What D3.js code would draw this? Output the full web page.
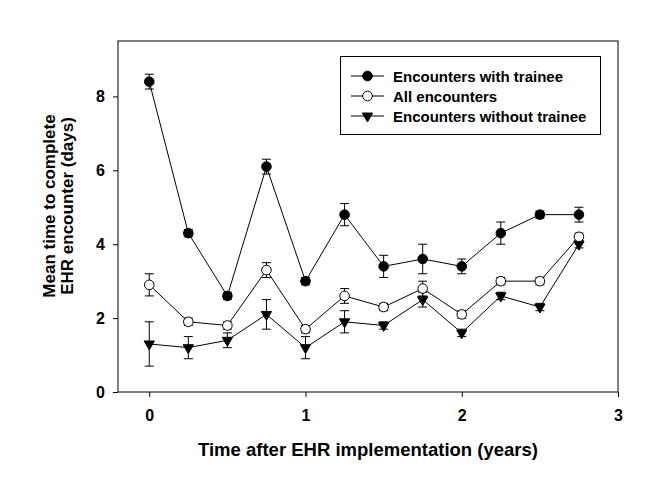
<!DOCTYPE html>
<html><head><meta charset="utf-8">
<script src="https://cdn.jsdelivr.net/npm/d3@7"></script>
<style>body{margin:0;background:#fff}svg{display:block}text{font-family:"Liberation Sans",Arial,sans-serif;font-weight:bold;fill:#000}</style>
</head><body>
<script>
const times = [0,0.25,0.5,0.75,1,1.25,1.5,1.75,2,2.25,2.5,2.75];
const withTrainee = [8.4,4.3,2.6,6.1,3.0,4.8,3.4,3.6,3.4,4.3,4.8,4.8];
const withTraineeErr = [0.2,0.1,0.1,0.2,0.1,0.3,0.3,0.4,0.2,0.3,0.1,0.2];
const allEnc = [2.9,1.9,1.8,3.3,1.7,2.6,2.3,2.8,2.1,3.0,3.0,4.2];
const allEncErr = [0.3,0.1,0.1,0.2,0.1,0.2,0.1,0.2,0.1,0.1,0.1,0.1];
const withoutTrainee = [1.3,1.2,1.4,2.1,1.2,1.9,1.8,2.5,1.6,2.6,2.3,4.0];
const withoutTraineeErr = [0.6,0.3,0.2,0.4,0.3,0.3,0.1,0.2,0.1,0.1,0.1,0.1];
const xTicks = [0,1,2,3];
const yTicks = [0,2,4,6,8];
const seriesNames = ["Encounters with trainee","All encounters","Encounters without trainee"];

const W=672,H=492;
const m={l:118,r:54,t:41,b:100};
const svg=d3.select("body").append("svg").attr("width",W).attr("height",H);
const x=d3.scaleLinear().domain([-0.2,3]).range([m.l,W-m.r]);
const y=d3.scaleLinear().domain([0,9.5]).range([H-m.b,m.t]);

svg.append("rect").attr("x",m.l).attr("y",m.t).attr("width",W-m.r-m.l).attr("height",H-m.b-m.t)
  .attr("fill","none").attr("stroke","#000").attr("stroke-width",1);

const xa=svg.append("g").attr("transform",`translate(0,${H-m.b})`)
  .call(d3.axisBottom(x).tickValues(xTicks).tickFormat(d3.format("d")).tickSize(5).tickPadding(13));
const ya=svg.append("g").attr("transform",`translate(${m.l},0)`)
  .call(d3.axisLeft(y).tickValues(yTicks).tickFormat(d3.format("d")).tickSize(5).tickPadding(8));
[xa,ya].forEach(a=>{a.select(".domain").remove();a.selectAll("text").style("font-size","16px").style("font-family","Liberation Sans, Arial, sans-serif").style("font-weight","bold");a.selectAll("line").attr("stroke","#000");});

svg.append("text").attr("x",(m.l+W-m.r)/2).attr("y",456).attr("text-anchor","middle").style("font-size","18.5px").text("Time after EHR implementation (years)");
const yl=svg.append("text").attr("transform",`translate(55,206) rotate(-90)`).attr("text-anchor","middle").style("font-size","17px");
yl.append("tspan").attr("x",0).attr("y",0).text("Mean time to complete");
yl.append("tspan").attr("x",0).attr("y",18).text("EHR encounter (days)");

const series=[
 {name:seriesNames[2],v:withoutTrainee,e:withoutTraineeErr,type:"tri",fill:"#000"},
 {name:seriesNames[1],v:allEnc,e:allEncErr,type:"circ",fill:"#fff"},
 {name:seriesNames[0],v:withTrainee,e:withTraineeErr,type:"circ",fill:"#000"}
];
const line=d3.line().x(d=>x(d[0])).y(d=>y(d[1]));
const tri=d3.symbol().type(d3.symbolTriangle).size(46);
function marker(g,type,fill){
  if(type==="circ") g.append("circle").attr("r",4.8).attr("fill",fill).attr("stroke","#000").attr("stroke-width",1);
  else g.append("path").attr("d",tri()).attr("transform","rotate(180)").attr("fill",fill).attr("stroke","#000").attr("stroke-width",1);
}
series.forEach(s=>{
  const g=svg.append("g");
  const pts=times.map((t,i)=>[t,s.v[i],s.e[i]]);
  pts.forEach(p=>{
    const cx=x(p[0]),y1=y(p[1]+p[2]),y2=y(p[1]-p[2]);
    g.append("line").attr("x1",cx).attr("x2",cx).attr("y1",y1).attr("y2",y2).attr("stroke","#000");
    [y1,y2].forEach(yy=>g.append("line").attr("x1",cx-4.5).attr("x2",cx+4.5).attr("y1",yy).attr("y2",yy).attr("stroke","#000"));
  });
  g.append("path").attr("d",line(pts)).attr("fill","none").attr("stroke","#000").attr("stroke-width",1);
  pts.forEach(p=>{const mg=g.append("g").attr("transform",`translate(${x(p[0])},${y(p[1])})`);marker(mg,s.type,s.fill);});
});

const lg=svg.append("g");
lg.append("rect").attr("x",340.5).attr("y",56.5).attr("width",260).attr("height",78).attr("fill","#fff").attr("stroke","#000");
const legItems=[series[2],series[1],series[0]];
legItems.forEach((s,i)=>{
  const yy=76+i*20;
  lg.append("line").attr("x1",351).attr("x2",384).attr("y1",yy).attr("y2",yy).attr("stroke","#000");
  const mg=lg.append("g").attr("transform",`translate(367.5,${yy})`);marker(mg,s.type,s.fill);
  lg.append("text").attr("x",393).attr("y",yy+5.5).style("font-size","15px").text(s.name);
});
</script>
</body></html>
